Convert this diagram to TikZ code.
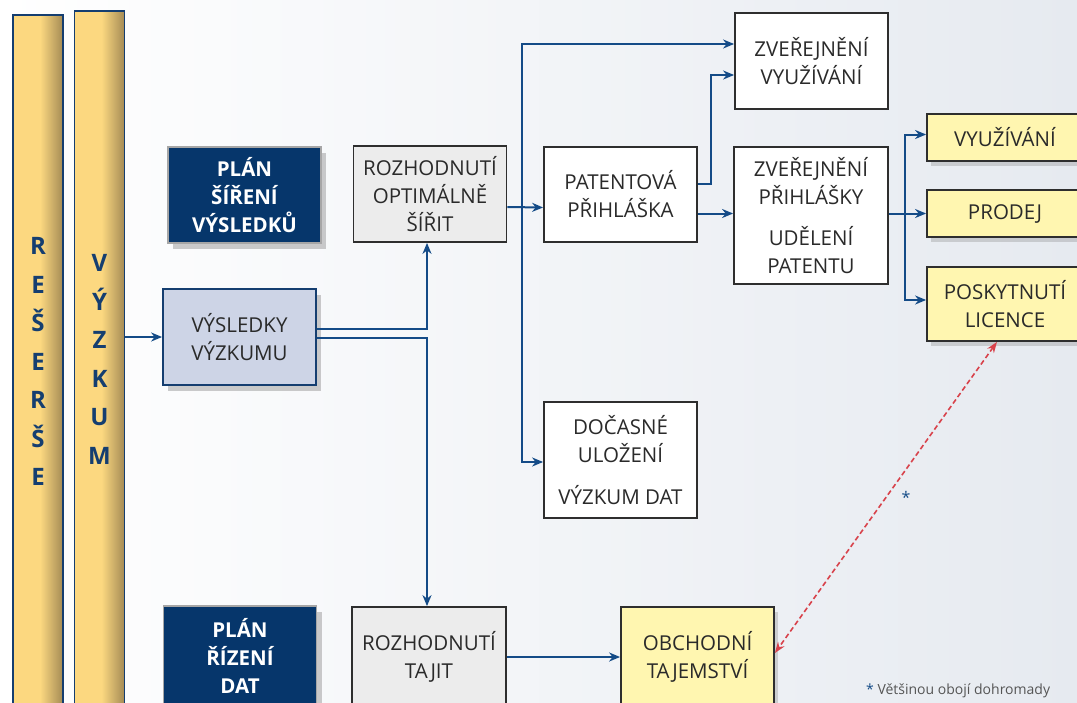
\documentclass[tikz,border=0pt]{standalone}
\usepackage{fontspec}
\setmainfont{Open Sans}
\usetikzlibrary{arrows.meta,shadows}

\definecolor{navy}{HTML}{06366B}
\definecolor{arrowblue}{HTML}{144B87}
\definecolor{barfill}{HTML}{FCD880}
\definecolor{bardark}{HTML}{A48B55}
\definecolor{barline}{HTML}{153E70}
\definecolor{grayfill}{HTML}{ECECEC}
\definecolor{bluefill}{HTML}{CDD4E6}
\definecolor{yellowfill}{HTML}{FFF6B0}
\definecolor{boxline}{HTML}{2E2E2E}
\definecolor{txt}{HTML}{2A2A2A}
\definecolor{bgright}{HTML}{E6EAF0}
\definecolor{reddash}{HTML}{D8424B}

\pgfdeclarehorizontalshading{barshade}{100bp}{color(0bp)=(barfill); color(52bp)=(barfill);
  color(75bp)=(bardark); color(100bp)=(bardark)}

\begin{document}
\begin{tikzpicture}[x=1pt,y=-1pt,
  box/.style={draw=boxline,line width=1.8pt,fill=white,text=txt,align=center,
    font=\fontsize{20.5}{28}\selectfont,inner sep=0pt,minimum width=153pt,minimum height=96pt},
  graybox/.style={box,fill=grayfill},
  yellowbox/.style={box,fill=yellowfill,minimum width=156pt,minimum height=47pt,
    drop shadow={shadow xshift=4pt,shadow yshift=-5pt,opacity=.3}},
  planbox/.style={box,draw=gray!70,fill=navy,text=white,font=\fontsize{20.5}{28}\selectfont\bfseries,
    drop shadow={shadow xshift=5pt,shadow yshift=-6pt,opacity=.4}},
  resultbox/.style={box,draw=barline,fill=bluefill,
    drop shadow={shadow xshift=5pt,shadow yshift=-6pt,opacity=.4}},
  bar/.style={draw=barline,line width=1.8pt,shading=barshade,
    text=barline,align=center,font=\fontsize{24}{38.5}\selectfont\bfseries,inner sep=0pt,minimum width=50pt},
  arr/.style={draw=arrowblue,line width=2pt,-{Stealth[length=11pt,width=9pt]}}
]
\useasboundingbox (0,0) rectangle (1077,702);
\clip (0,0) rectangle (1077,702);
\shade[left color=white,right color=bgright] (0,0) rectangle (1077,702);

% sloupce vlevo
\node[bar,minimum height=693pt] (reserse) at (38,361.5) {R\\E\\Š\\E\\R\\Š\\E};
\node[bar,minimum height=697pt] (vyzkum) at (99.5,359.5) {V\\Ý\\Z\\K\\U\\M};

% bloky
\node[planbox] (plansireni) at (244.5,195) {PLÁN\\ŠÍŘENÍ\\VÝSLEDKŮ};
\node[resultbox] (vysledky) at (239.5,337) {VÝSLEDKY\\VÝZKUMU};
\node[graybox] (rozopt) at (430,194) {ROZHODNUTÍ\\OPTIMÁLNĚ\\ŠÍŘIT};
\node[box,minimum height=95pt] (patent) at (620.5,194.5) {PATENTOVÁ\\PŘIHLÁŠKA};
\node[box] (zverv) at (811.5,61) {ZVEŘEJNĚNÍ\\VYUŽÍVÁNÍ};
\node[box,minimum width=154pt,minimum height=137pt] (zverp) at (811,215.5)
  {ZVEŘEJNĚNÍ\\PŘIHLÁŠKY\\[13pt]UDĚLENÍ\\PATENTU};
\node[yellowbox] (vyuz) at (1005,137.5) {VYUŽÍVÁNÍ};
\node[yellowbox] (prodej) at (1005,213.5) {PRODEJ};
\node[yellowbox,minimum height=74pt] (licence) at (1005,304) {POSKYTNUTÍ\\LICENCE};
\node[box,minimum height=116pt] (docas) at (620.5,460) {DOČASNÉ\\ULOŽENÍ\\[14pt]VÝZKUM DAT};
\node[planbox,minimum height=100pt] (planrizeni) at (240,656) {PLÁN\\ŘÍZENÍ\\DAT};
\node[graybox,minimum width=154pt,minimum height=100pt] (roztaj) at (429,657) {ROZHODNUTÍ\\TAJIT};
\node[yellowbox,minimum width=153pt,minimum height=100pt] (obchod) at (697.5,657) {OBCHODNÍ\\TAJEMSTVÍ};

% spojnice
\draw[arr] (vyzkum.east |- vysledky.west) -- (vysledky.west);
\draw[arr] ([yshift=8pt]vysledky.east) -| ([xshift=-3pt]rozopt.south);
\draw[arr] ([yshift=-1pt]vysledky.east) -| ([xshift=-2pt]roztaj.north);
\draw[arr] ([yshift=-13pt]rozopt.east) -- ([yshift=-13pt]patent.west)
  coordinate[pos=0.41] (fork);
\draw[arr] (fork) |- ([yshift=17pt]zverv.west);
\draw[arr] (fork) |- ([yshift=-2pt]docas.west);
\draw[arr] ([yshift=11pt]patent.east) -- ++(13,0) |- ([yshift=-14pt]zverv.west);
\draw[arr] ([yshift=-19pt]patent.east) -- ([yshift=-19pt]patent.east -| zverp.west);
\coordinate (hub) at ([xshift=16pt]zverp.east |- prodej.west);
\draw[arr] (zverp.east |- prodej.west) -- (prodej.west);
\draw[arr] (hub) |- ([yshift=3pt]vyuz.west);
\draw[arr] (hub) |- ([yshift=4pt]licence.west);
\draw[arr] (roztaj.east) -- (obchod.west);
\draw[reddash,line width=1.6pt,dash pattern=on 5pt off 3pt,
  {Stealth[length=11pt,width=8pt]}-{Stealth[length=11pt,width=8pt]}]
  ([xshift=-8pt]licence.south) -- ([yshift=4pt]obchod.east);

% poznamky
\node[text=arrowblue,font=\fontsize{16}{16}\selectfont] (hvezda) at (906,497) {*};
\node[anchor=west,text=txt!80,font=\fontsize{14}{16}\selectfont,inner sep=0pt] (pozn) at (866,691)
  {\textcolor{arrowblue}{*}\ Většinou obojí dohromady};
\end{tikzpicture}
\end{document}
